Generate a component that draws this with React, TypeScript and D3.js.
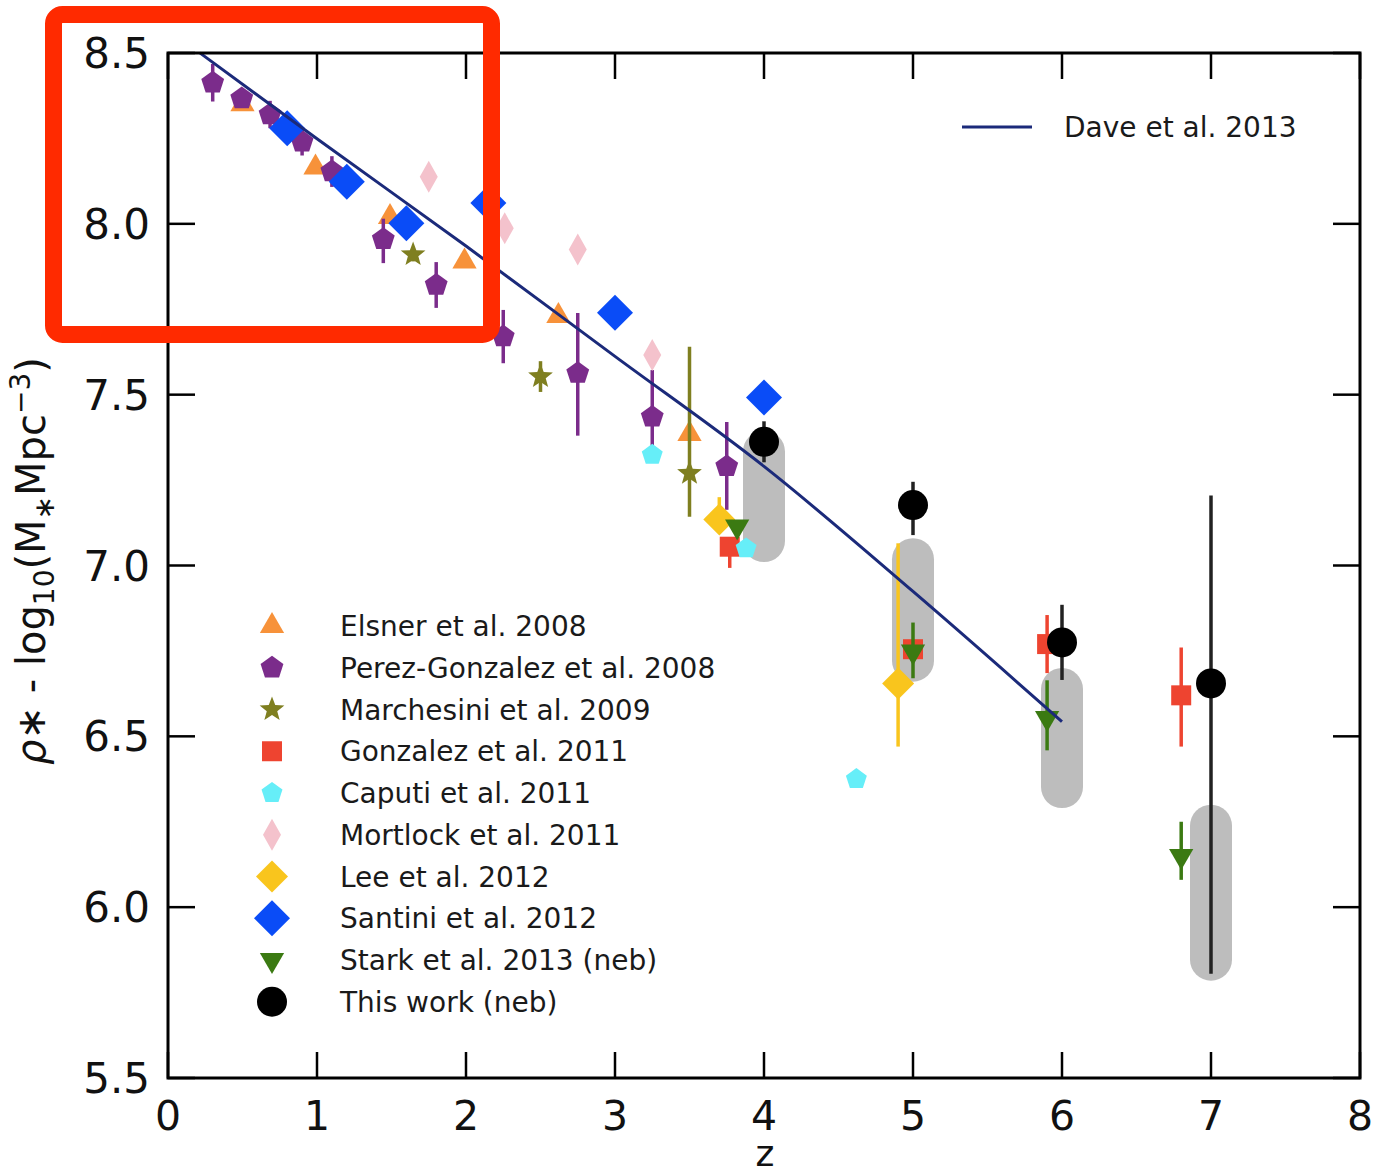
import React from 'react';
import * as d3 from 'd3';

// each point: z, value, and optional upper / lower error
type Pt = { z: number; v: number; hi?: number; lo?: number };

const elsner: Pt[] = [
  { z: 0.5, v: 8.35 }, { z: 0.99, v: 8.165 }, { z: 1.49, v: 8.02 },
  { z: 1.99, v: 7.89 }, { z: 2.62, v: 7.73 }, { z: 3.5, v: 7.385 },
];
const perezGonzalez: Pt[] = [
  { z: 0.3, v: 8.413, hi: 0.055, lo: 0.055 }, { z: 0.495, v: 8.367, hi: 0.02, lo: 0.02 },
  { z: 0.685, v: 8.32, hi: 0.04, lo: 0.04 }, { z: 0.9, v: 8.24, hi: 0.04, lo: 0.04 },
  { z: 1.1, v: 8.153, hi: 0.045, lo: 0.045 }, { z: 1.445, v: 7.955, hi: 0.06, lo: 0.07 },
  { z: 1.8, v: 7.821, hi: 0.067, lo: 0.067 }, { z: 2.25, v: 7.67, hi: 0.078, lo: 0.078 },
  { z: 2.75, v: 7.563, hi: 0.176, lo: 0.183 }, { z: 3.25, v: 7.435, hi: 0.137, lo: 0.127 },
  { z: 3.75, v: 7.29, hi: 0.13, lo: 0.127 },
];
const marchesini: Pt[] = [
  { z: 1.645, v: 7.91, hi: 0.02, lo: 0.02 }, { z: 2.5, v: 7.553, hi: 0.045, lo: 0.045 },
  { z: 3.5, v: 7.27, hi: 0.37, lo: 0.127 },
];
const gonzalez: Pt[] = [
  { z: 3.77, v: 7.055, hi: 0.02, lo: 0.062 }, { z: 5.0, v: 6.755 },
  { z: 5.9, v: 6.77, hi: 0.085, lo: 0.085 }, { z: 6.8, v: 6.62, hi: 0.14, lo: 0.15 },
];
const caputi: Pt[] = [{ z: 3.25, v: 7.324 }, { z: 3.88, v: 7.05 }, { z: 4.62, v: 6.375 }];
const mortlock: Pt[] = [{ z: 1.75, v: 8.138 }, { z: 2.26, v: 7.987 }, { z: 2.75, v: 7.925 }, { z: 3.25, v: 7.616 }];
const lee: Pt[] = [{ z: 3.7, v: 7.135, hi: 0.065, lo: 0 }, { z: 4.9, v: 6.655, hi: 0.41, lo: 0.185 }];
const santini: Pt[] = [
  { z: 0.8, v: 8.28 }, { z: 1.2, v: 8.123 }, { z: 1.6, v: 8.002 },
  { z: 2.15, v: 8.061 }, { z: 3.0, v: 7.74 }, { z: 4.0, v: 7.492 },
];
const stark: Pt[] = [
  { z: 3.82, v: 7.114 }, { z: 5.0, v: 6.748, hi: 0.085, lo: 0.078 },
  { z: 5.9, v: 6.554, hi: 0.11, lo: 0.095 }, { z: 6.8, v: 6.15, hi: 0.1, lo: 0.07 },
];
const thisWork: Pt[] = [
  { z: 4.0, v: 7.362, hi: 0.06, lo: 0.06 }, { z: 5.0, v: 7.177, hi: 0.068, lo: 0.088 },
  { z: 6.0, v: 6.775, hi: 0.11, lo: 0.11 }, { z: 7.0, v: 6.655, hi: 0.55, lo: 0.85 },
];
// grey ranges behind "This work"
const thisWorkRange = [
  { z: 4, lo: 7.01, hi: 7.395 }, { z: 5, lo: 6.66, hi: 7.08 },
  { z: 6, lo: 6.29, hi: 6.7 }, { z: 7, lo: 5.785, hi: 6.3 },
];
const dave: [number, number][] = [
  [0.215, 8.5], [1, 8.249], [2, 7.935], [3, 7.612], [4, 7.29], [5, 6.924], [6, 6.543],
];

const xTicks = [0, 1, 2, 3, 4, 5, 6, 7, 8];
const yTicks = [5.5, 6.0, 6.5, 7.0, 7.5, 8.0, 8.5];

const series = [
  { label: 'Elsner et al. 2008', color: '#f7923a', shape: 'tri', data: elsner },
  { label: 'Perez-Gonzalez et al. 2008', color: '#7b2c8b', shape: 'pent', data: perezGonzalez },
  { label: 'Marchesini et al. 2009', color: '#7f7f20', shape: 'star', data: marchesini },
  { label: 'Gonzalez et al. 2011', color: '#ee4430', shape: 'square', data: gonzalez },
  { label: 'Caputi et al. 2011', color: '#66eef8', shape: 'pentS', data: caputi },
  { label: 'Mortlock et al. 2011', color: '#f4c2cc', shape: 'thin', data: mortlock },
  { label: 'Lee et al. 2012', color: '#f9c51d', shape: 'diamond', data: lee },
  { label: 'Santini et al. 2012', color: '#0a4cf7', shape: 'diamondL', data: santini },
  { label: 'Stark et al. 2013 (neb)', color: '#3b7a12', shape: 'triDown', data: stark },
  { label: 'This work (neb)', color: '#000000', shape: 'circle', data: thisWork },
];
// order in which series are drawn on the plot
const drawOrder = [0, 1, 2, 3, 4, 5, 6, 7, 9, 8];

const polygon = (n: number, r: number, rot: number) => {
  const pts = d3.range(n).map((i) => {
    const a = rot + (i * 2 * Math.PI) / n;
    return [r * Math.cos(a), r * Math.sin(a)];
  });
  return 'M' + pts.map((p) => p.join(',')).join('L') + 'Z';
};
const starPath = (ro: number, ri: number) => {
  const pts = d3.range(10).map((i) => {
    const a = -Math.PI / 2 + (i * Math.PI) / 5;
    const r = i % 2 === 0 ? ro : ri;
    return [r * Math.cos(a), r * Math.sin(a)];
  });
  return 'M' + pts.map((p) => p.join(',')).join('L') + 'Z';
};
const markerPath = (shape: string) => {
  switch (shape) {
    case 'tri': return polygon(3, 14, -Math.PI / 2);
    case 'triDown': return polygon(3, 14, Math.PI / 2);
    case 'pent': return polygon(5, 12, -Math.PI / 2);
    case 'pentS': return polygon(5, 11, -Math.PI / 2);
    case 'star': return starPath(13, 5.5);
    case 'square': return 'M-10,-10L10,-10L10,10L-10,10Z';
    case 'thin': return 'M0,-16L9,0L0,16L-9,0Z';
    case 'diamond': return 'M0,-16L16,0L0,16L-16,0Z';
    case 'diamondL': return 'M0,-18L18,0L0,18L-18,0Z';
    default: return d3.symbol(d3.symbolCircle, Math.PI * 15 * 15)() || '';
  }
};

const App = () => {
  const x = d3.scaleLinear().domain([0, 8]).range([168, 1360]);
  const y = d3.scaleLinear().domain([5.5, 8.5]).range([1078, 53]);
  const font = 'DejaVu Sans, sans-serif';
  const daveLine = d3.line<[number, number]>()
    .x((d) => x(d[0]))
    .y((d) => y(d[1]))
    .curve(d3.curveMonotoneX)(dave) || '';

  const errColor = (c: string) => (c === '#000000' ? '#222' : c);

  return (
    <svg width={1373} height={1176} style={{ position: 'absolute', left: 0, top: 0, background: '#fff' }}
      fontFamily={font}>
      <rect x={0} y={0} width={1373} height={1176} fill="#fff" />

      {/* grey ranges */}
      {thisWorkRange.map((d, i) => (
        <rect key={'b' + i} x={x(d.z) - 21} width={42} y={y(d.hi)} height={y(d.lo) - y(d.hi)}
          rx={21} fill="#bdbdbd" />
      ))}

      {/* error bars and markers */}
      {drawOrder.map((si) => {
        const s = series[si];
        return (
          <g key={s.label}>
            {s.data.filter((d) => d.hi || d.lo).map((d, i) => (
              <line key={'e' + i} x1={x(d.z)} x2={x(d.z)} y1={y(d.v + (d.hi || 0))} y2={y(d.v - (d.lo || 0))}
                stroke={errColor(s.color)} strokeWidth={3.5} />
            ))}
            {s.data.map((d, i) => (
              <path key={'m' + i} d={markerPath(s.shape)} transform={`translate(${x(d.z)},${y(d.v)})`}
                fill={s.color} />
            ))}
          </g>
        );
      })}

      <path d={daveLine} fill="none" stroke="#1b2a7a" strokeWidth={3} />

      {/* frame and ticks */}
      <rect x={168} y={53} width={1192} height={1025} fill="none" stroke="#000" strokeWidth={3} />
      {xTicks.map((t) => (
        <g key={'x' + t}>
          <line x1={x(t)} x2={x(t)} y1={1078} y2={1052} stroke="#000" strokeWidth={2.5} />
          <line x1={x(t)} x2={x(t)} y1={53} y2={79} stroke="#000" strokeWidth={2.5} />
          <text x={x(t)} y={1130} fontSize={41} textAnchor="middle" fill="#111">{t}</text>
        </g>
      ))}
      {yTicks.map((t) => (
        <g key={'y' + t}>
          <line x1={168} x2={195} y1={y(t)} y2={y(t)} stroke="#000" strokeWidth={2.5} />
          <line x1={1360} x2={1333} y1={y(t)} y2={y(t)} stroke="#000" strokeWidth={2.5} />
          <text x={150} y={y(t)} dy="0.36em" fontSize={42} textAnchor="end" fill="#111">{t.toFixed(1)}</text>
        </g>
      ))}

      <text x={765} y={1166} fontSize={36} textAnchor="middle" fill="#111">z</text>
      <text transform="translate(45,561) rotate(-90)" fontSize={40} textAnchor="middle" fill="#111">
        <tspan fontStyle="italic">ρ</tspan>
        <tspan>∗ - log</tspan>
        <tspan fontSize={28} dy={9}>10</tspan>
        <tspan dy={-9}>(M</tspan>
        <tspan fontSize={28} dy={9}>∗</tspan>
        <tspan dy={-9}>Mpc</tspan>
        <tspan fontSize={28} dy={-15}>−3</tspan>
        <tspan dy={15}>)</tspan>
      </text>

      {/* legends */}
      {series.map((s, i) => {
        const ly = 626 + i * 41.75;
        return (
          <g key={'l' + i}>
            <path d={markerPath(s.shape)} transform={`translate(272,${ly})`} fill={s.color} />
            <text x={340} y={ly} dy="0.36em" fontSize={28} fill="#1a1a1a">{s.label}</text>
          </g>
        );
      })}
      <line x1={962} x2={1032} y1={127} y2={127} stroke="#1b2a7a" strokeWidth={3} />
      <text x={1064} y={127} dy="0.36em" fontSize={28} fill="#1a1a1a">Dave et al. 2013</text>

      {/* highlight box */}
      <rect x={53.5} y={14.5} width={438} height={320} rx={9} fill="none" stroke="#ff2a00" strokeWidth={17} />
    </svg>
  );
};

export default App;
